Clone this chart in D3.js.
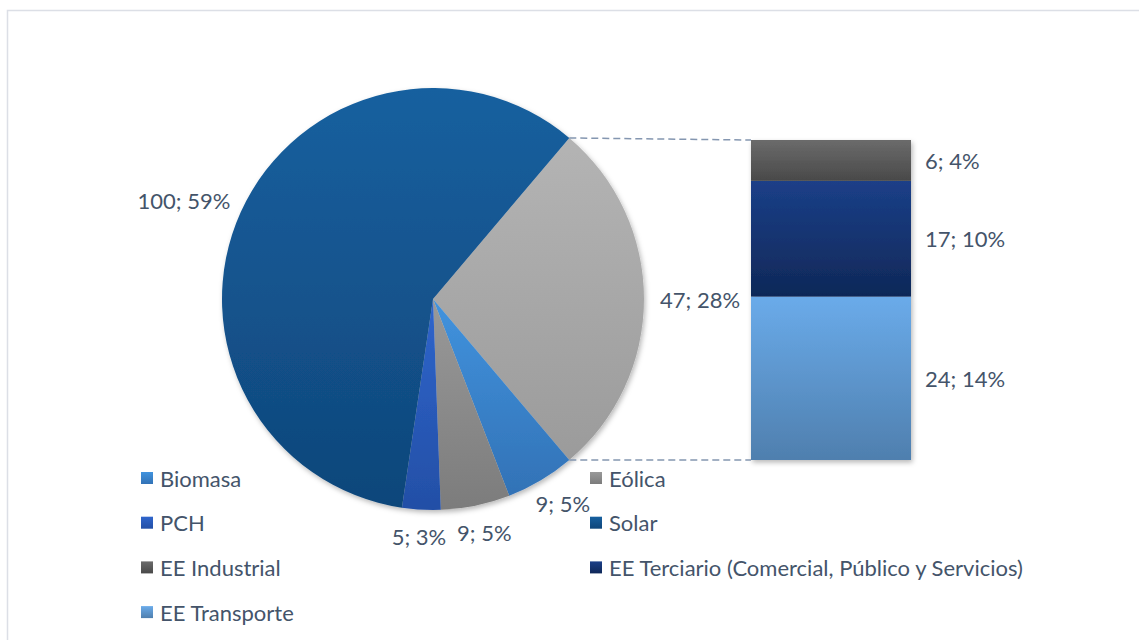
<!DOCTYPE html>
<html>
<head>
<meta charset="utf-8">
<script src="https://cdn.jsdelivr.net/npm/d3@7"></script>
<style>
  html, body { margin: 0; padding: 0; background: #fff; }
  svg { display: block; }
</style>
</head>
<body>
<svg id="chart" width="1139" height="640"></svg>
<script>
"use strict";

// pie slices (the "other" slice is the sum of the bar items)
const pieNames = ["Biomasa", "Eólica", "PCH", "Solar"];
const pieValues = [9, 9, 5, 100];
// bar of pie
const barNames = ["EE Industrial", "EE Terciario (Comercial, Público y Servicios)", "EE Transporte"];
const barValues = [6, 17, 24];
// legend order
const legendNames = ["Biomasa", "Eólica", "PCH", "Solar", "EE Industrial",
  "EE Terciario (Comercial, Público y Servicios)", "EE Transporte"];

const colors = {
  "Biomasa": ["#4193de", "#3272b6"],
  "Eólica": ["#999999", "#7c7c7c"],
  "PCH": ["#2f65cc", "#234fa6"],
  "Solar": ["#17609f", "#0f467a"],
  "Other": ["#b4b4b4", "#9b9b9b"],
  "EE Industrial": ["#6b6b6b", "#494949"],
  "EE Terciario (Comercial, Público y Servicios)": ["#1b3f88", "#0f2858"],
  "EE Transporte": ["#6aabea", "#4f7fae"]
};

const textColor = "#44546a";
const font = "Lato, 'Open Sans', sans-serif";
const fontSize = 22;

let svg = d3.select('#chart');
let width = +svg.attr('width');
let height = +svg.attr('height');

let defs = svg.append("defs");
let keyOf = name => "g" + Object.keys(colors).indexOf(name);
for (let [name, [c0, c1]] of Object.entries(colors)) {
  let g = defs.append("linearGradient")
    .attr("id", keyOf(name))
    .attr("x1", 0).attr("y1", 0).attr("x2", 0).attr("y2", 1);
  g.append("stop").attr("offset", "0%").attr("stop-color", c0);
  g.append("stop").attr("offset", "100%").attr("stop-color", c1);
}
let shadow = defs.append("filter").attr("id", "shadow")
  .attr("x", "-10%").attr("y", "-10%").attr("width", "120%").attr("height", "120%");
shadow.append("feDropShadow").attr("dx", 1.5).attr("dy", 2.5)
  .attr("stdDeviation", 2.5).attr("flood-color", "#000").attr("flood-opacity", 0.28);

// chart frame
svg.append("rect")
  .attr("x", 7.5).attr("y", 10.5)
  .attr("width", width + 10).attr("height", height + 10)
  .attr("fill", "none").attr("stroke", "#dcdfe6").attr("stroke-width", 1.5);

// pie
let cx = 433, cy = 299, R = 211;
let otherTotal = d3.sum(barValues);
let total = d3.sum(pieValues) + otherTotal;
let pieData = [{name: "Other", value: otherTotal}]
  .concat(pieNames.map((n, i) => ({name: n, value: pieValues[i]})));
let otherAngle = otherTotal / total * 2 * Math.PI;
let pie = d3.pie().sort(null).value(d => d.value)
  .startAngle(Math.PI / 2 - otherAngle / 2)
  .endAngle(Math.PI / 2 - otherAngle / 2 + 2 * Math.PI);
let arcs = pie(pieData);
let arc = d3.arc().innerRadius(0).outerRadius(R);

let pieG = svg.append("g").attr("transform", `translate(${cx},${cy})`);
pieG.append("g").attr("filter", "url(#shadow)")
  .selectAll("path").data(arcs).join("path")
  .attr("d", arc)
  .attr("fill", d => `url(#${keyOf(d.data.name)})`);

let pct = v => Math.round(v / total * 100) + "%";
let labelOffset = 16;
let pieLabels = pieG.append("g")
  .style("font", `${fontSize}px ${font}`)
  .attr("fill", textColor);
arcs.forEach(d => {
  let a = (d.startAngle + d.endAngle) / 2;
  let dx = Math.sin(a), dy = -Math.cos(a);
  let t = pieLabels.append("text")
    .attr("text-anchor", "middle")
    .attr("dominant-baseline", "central")
    .text(`${d.data.value}; ${pct(d.data.value)}`);
  let w = t.node().getComputedTextLength();
  let h = fontSize;
  t.attr("x", dx * (R + labelOffset) + dx * w / 2)
   .attr("y", dy * (R + labelOffset) + dy * h / 2);
});

// bar of pie
let barX = 751, barW = 160;
let y = d3.scaleLinear().domain([0, otherTotal]).range([460, 140]);
let stack = [];
let acc = 0;
for (let i = barValues.length - 1; i >= 0; i--) {
  stack.push({name: barNames[i], value: barValues[i], y0: acc, y1: acc + barValues[i]});
  acc += barValues[i];
}
let barG = svg.append("g");
barG.append("g").attr("filter", "url(#shadow)")
  .selectAll("rect").data(stack).join("rect")
  .attr("x", barX).attr("width", barW)
  .attr("y", d => y(d.y1)).attr("height", d => y(d.y0) - y(d.y1))
  .attr("fill", d => `url(#${keyOf(d.name)})`);
barG.append("g")
  .style("font", `${fontSize}px ${font}`)
  .attr("fill", textColor)
  .selectAll("text").data(stack).join("text")
  .attr("x", barX + barW + 14)
  .attr("y", d => (y(d.y0) + y(d.y1)) / 2)
  .attr("dominant-baseline", "central")
  .text(d => `${d.value}; ${pct(d.value)}`);

// connector lines between the "other" slice and the bar
let oa = arcs[0];
let p0 = [cx + Math.sin(oa.startAngle) * R, cy - Math.cos(oa.startAngle) * R];
let p1 = [cx + Math.sin(oa.endAngle) * R, cy - Math.cos(oa.endAngle) * R];
svg.append("g")
  .attr("stroke", "#8496b0").attr("stroke-width", 1.5)
  .attr("stroke-dasharray", "7,4")
  .selectAll("line")
  .data([[p0, [barX, y(otherTotal)]], [p1, [barX, y(0)]]])
  .join("line")
  .attr("x1", d => d[0][0]).attr("y1", d => d[0][1])
  .attr("x2", d => d[1][0]).attr("y2", d => d[1][1]);

// legend
let legendCols = [141, 590];
let legendRowY = d3.scaleLinear().domain([0, 1]).range([478, 522.7]);
let legend = svg.append("g")
  .style("font", `${fontSize}px ${font}`)
  .attr("fill", textColor);
let item = legend.selectAll("g").data(legendNames).join("g")
  .attr("transform", (d, i) => `translate(${legendCols[i % 2]},${legendRowY(Math.floor(i / 2))})`);
item.append("rect")
  .attr("x", 0).attr("y", -6).attr("width", 12).attr("height", 12)
  .attr("fill", d => `url(#${keyOf(d)})`);
item.append("text")
  .attr("x", 19).attr("dominant-baseline", "central")
  .text(d => d);
</script>
</body>
</html>
